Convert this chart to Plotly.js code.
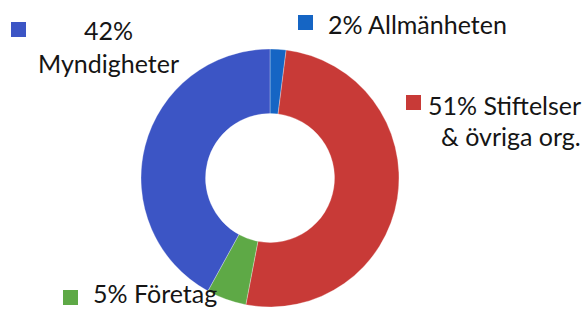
<!DOCTYPE html>
<html><head><meta charset="utf-8">
<script src="https://cdn.plot.ly/plotly-3.0.1.min.js"></script>
<style>html,body{margin:0;padding:0;background:#fff}</style>
</head><body><div id="chart" style="width:585px;height:309px"></div>
<script>
const categories = ["Allmänheten", "Stiftelser & övriga org.", "Företag", "Myndigheter"];
const shares = [2, 51, 5, 42];
const colors = ["#1565c4", "#c83a37", "#5ea946", "#3c55c5"];

const W = 585, H = 309;
const px = x => x / W;
const py = y => 1 - y / H;
const font = {family: "Lato, 'Open Sans', sans-serif", size: 25, color: "#151515"};

const trace = {
  type: "pie",
  values: shares,
  labels: categories,
  marker: {colors: colors, line: {color: "rgba(255,255,255,0.6)", width: 0.5}},
  hole: 0.5,
  sort: false,
  direction: "clockwise",
  rotation: 0,
  textinfo: "none",
  hoverinfo: "label+percent",
  showlegend: false,
  domain: {x: [px(141), px(399)], y: [py(307), py(49)]}
};

function lab(text, x, y, anchor) {
  return {text: text, x: px(x), y: py(y), xref: "paper", yref: "paper",
    xanchor: anchor, yanchor: "middle", showarrow: false, font: font};
}
function sq(x, y, c) {
  return {type: "rect", xref: "paper", yref: "paper",
    x0: px(x), x1: px(x + 15), y0: py(y + 15), y1: py(y), fillcolor: c, line: {width: 0}};
}

const layout = {
  width: W, height: H,
  margin: {l: 0, r: 0, t: 0, b: 0},
  paper_bgcolor: "#fff",
  annotations: [
    lab(shares[3] + "%", 108, 30, "center"),
    lab(categories[3], 108, 63, "center"),
    lab(shares[0] + "% " + categories[0], 326, 24, "left"),
    lab(shares[1] + "% Stiftelser", 583, 105, "right"),
    lab("& övriga org.", 583, 136, "right"),
    lab(shares[2] + "% " + categories[2], 91, 293, "left")
  ],
  shapes: [
    sq(11, 22, colors[3]),
    sq(298, 15, colors[0]),
    sq(406, 95, colors[1]),
    sq(63, 290, colors[2])
  ]
};

Plotly.newPlot("chart", [trace], layout, {displayModeBar: false, staticPlot: true});
</script></body></html>
